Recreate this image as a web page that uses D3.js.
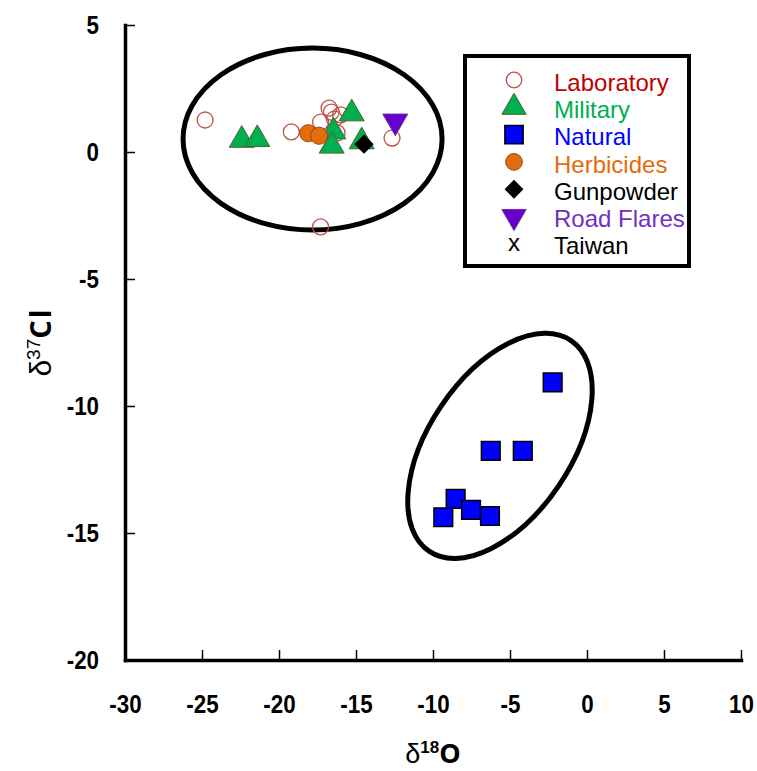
<!DOCTYPE html>
<html>
<head>
<meta charset="utf-8">
<script src="https://cdn.jsdelivr.net/npm/d3@7"></script>
<style>
  body { margin: 0; background: #fff; }
  .tick text { font-family: "Liberation Sans", Arial, sans-serif; font-weight: bold; font-size: 26px; fill: #000; }
</style>
</head>
<body>
<div id="chart"></div>
<script>
// data: [d18O, d37Cl]
const laboratory = [[-24.8, 1.26], [-19.2, 0.79], [-16.75, 1.73], [-16.6, 1.57], [-16.0, 1.46],
  [-17.3, 1.18], [-16.4, 1.3], [-16.23, 0.75], [-12.66, 0.55], [-17.3, -2.95]];
const military = [[-22.42, 0.47], [-21.41, 0.5], [-15.28, 1.51], [-16.47, 0.8], [-16.58, 0.24], [-14.63, 0.41]];
const natural = [[-2.23, -9.07], [-6.25, -11.77], [-4.17, -11.77], [-8.53, -13.66], [-7.53, -14.09], [-9.33, -14.38], [-6.3, -14.33]];
const herbicides = [[-18.1, 0.74], [-17.4, 0.64]];
const gunpowder = [[-14.48, 0.31]];
const roadFlares = [[-12.45, 1.21]];
const taiwan = [];

const xTicks = [-30, -25, -20, -15, -10, -5, 0, 5, 10];
const yTicks = [5, 0, -5, -10, -15, -20];
const legendNames = ["Laboratory", "Military", "Natural", "Herbicides", "Gunpowder", "Road Flares", "Taiwan"];

const W = 757, H = 771;
const svg = d3.select("#chart").append("svg").attr("width", W).attr("height", H);

const x = d3.scaleLinear().domain([-30, 10]).range([125, 741]);
const y = d3.scaleLinear().domain([-20, 5]).range([660, 25]);

// group ellipses
const topGroup = { cx: -17.82, cy: 0.51, rx: 8.41, ry: 3.58 };
svg.append("ellipse")
    .attr("cx", x(topGroup.cx)).attr("cy", y(topGroup.cy))
    .attr("rx", x(topGroup.cx + topGroup.rx) - x(topGroup.cx))
    .attr("ry", y(topGroup.cy) - y(topGroup.cy + topGroup.ry))
    .attr("fill", "none").attr("stroke", "#000").attr("stroke-width", 5);
svg.append("ellipse")
    .attr("transform", `translate(${x(-5.65)},${y(-11.57)}) rotate(-56)`)
    .attr("rx", 127).attr("ry", 71)
    .attr("fill", "none").attr("stroke", "#000").attr("stroke-width", 5);

// narrow the bold tick labels a bit (reference font is condensed)
const squeeze = g => g.selectAll(".tick text").each(function() {
  const w = this.getComputedTextLength();
  d3.select(this).attr("textLength", w * 0.86).attr("lengthAdjust", "spacingAndGlyphs");
});

// axes, ticks inward, plain hyphen minus
svg.append("g")
    .attr("transform", "translate(0,660)")
    .call(d3.axisBottom(x).tickValues(xTicks).tickFormat(d => String(d)).tickSizeInner(-10).tickSizeOuter(0).tickPadding(35))
    .call(g => g.select(".domain").attr("stroke-width", 3.5).attr("stroke-linecap", "square"))
    .call(g => g.selectAll(".tick line").attr("stroke-width", 1.5))
    .call(squeeze);

svg.append("g")
    .attr("transform", "translate(125,0)")
    .call(d3.axisLeft(y).tickValues(yTicks).tickFormat(d => String(d)).tickSizeInner(-10).tickSizeOuter(0).tickPadding(26))
    .call(g => g.select(".domain").attr("stroke-width", 3.5).attr("stroke-linecap", "square"))
    .call(g => g.selectAll(".tick line").attr("stroke-width", 1.5))
    .call(squeeze);

// axis titles
const xt = svg.append("text").attr("x", 433).attr("y", 763).attr("text-anchor", "middle")
    .style("font-family", "'Liberation Sans', sans-serif").style("font-size", "27px");
xt.append("tspan").text("δ");
xt.append("tspan").attr("dy", -10).style("font-size", "17px").style("font-weight", "bold").text("18");
xt.append("tspan").attr("dy", 10).style("font-weight", "bold").style("font-family", "'Open Sans', sans-serif").text("O");

const yt = svg.append("text").attr("transform", "translate(51,342) rotate(-90)").attr("text-anchor", "middle")
    .style("font-family", "'Liberation Sans', sans-serif").style("font-size", "30px");
yt.append("tspan").text("δ");
yt.append("tspan").attr("dy", -11).style("font-size", "19px").text("37");
yt.append("tspan").attr("dy", 11).style("font-weight", "bold").style("font-size", "29px")
    .style("letter-spacing", "2px").style("font-family", "'Open Sans', sans-serif").text("Cl");

// marker styles
const styles = [
  { data: laboratory, shape: d3.symbolCircle, size: 200, rot: 0, fill: "none", stroke: "#c0504d", sw: 1.3, text: "#c00000" },
  { data: military, shape: d3.symbolTriangle, size: 270, rot: 0, fill: "#00b050", stroke: "#4f6228", sw: 1, text: "#00b050" },
  { data: natural, shape: d3.symbolSquare, size: 350, rot: 0, fill: "#0000ff", stroke: "#000", sw: 1.5, text: "#0000ff" },
  { data: herbicides, shape: d3.symbolCircle, size: 230, rot: 0, fill: "#e46c0a", stroke: "#984807", sw: 1, text: "#e46c0a" },
  { data: gunpowder, shape: d3.symbolSquare, size: 160, rot: 45, fill: "#000", stroke: "#000", sw: 1, text: "#000" },
  { data: roadFlares, shape: d3.symbolTriangle, size: 270, rot: 180, fill: "#6600cc", stroke: "#7030a0", sw: 1, text: "#7030c0" },
  { data: taiwan, shape: null, text: "#000" }
];

styles.forEach(s => {
  if (!s.shape) return;
  svg.append("g").selectAll("path").data(s.data).join("path")
      .attr("transform", d => `translate(${x(d[0])},${y(d[1])}) rotate(${s.rot})`)
      .attr("d", d3.symbol(s.shape, s.size))
      .attr("fill", s.fill).attr("stroke", s.stroke).attr("stroke-width", s.sw);
});

// legend
const legend = svg.append("g");
legend.append("rect").attr("x", 465).attr("y", 56).attr("width", 224).attr("height", 210)
    .attr("fill", "#fff").attr("stroke", "#000").attr("stroke-width", 4);

const rowY = i => 82 + i * 27.3;
styles.forEach((s, i) => {
  if (s.shape) {
    legend.append("path")
        .attr("transform", `translate(514,${rowY(i) - 2}) rotate(${s.rot})`)
        .attr("d", d3.symbol(s.shape, s.size * 0.95))
        .attr("fill", s.fill).attr("stroke", s.stroke).attr("stroke-width", s.sw);
  } else {
    legend.append("text").attr("x", 514).attr("y", rowY(i) - 3).attr("dy", "0.35em")
        .attr("text-anchor", "middle").style("font-family", "'Liberation Sans', Arial, sans-serif")
        .style("font-size", "24px").text("x");
  }
  legend.append("text").attr("x", 554).attr("y", rowY(i)).attr("dy", "0.36em")
      .style("font-family", "'Liberation Sans', Arial, sans-serif").style("font-size", "24px")
      .attr("fill", s.text).text(legendNames[i]);
});
</script>
</body>
</html>
